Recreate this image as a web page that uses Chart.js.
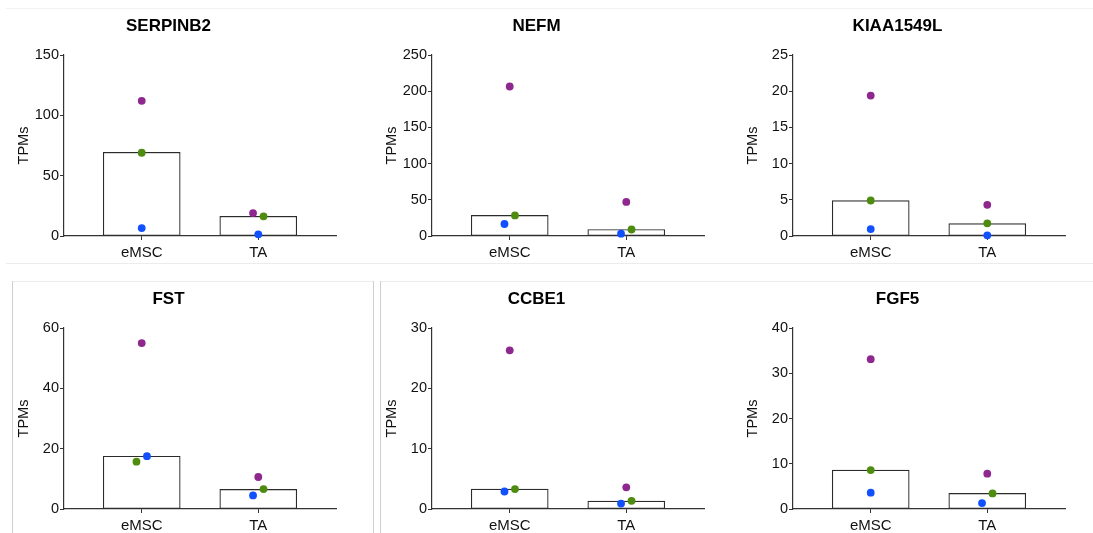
<!DOCTYPE html>
<html>
<head>
<meta charset="utf-8">
<script src="https://cdn.jsdelivr.net/npm/chart.js@4.4.0/dist/chart.umd.min.js"></script>
<style>
  body { margin: 0; background: #fff; width: 1093px; height: 533px; overflow: hidden; position: relative; }
  canvas { position: absolute; }
  .ln { position: absolute; }
</style>
</head>
<body>
<div class="ln" style="left:6px;top:8px;width:1087px;height:1px;background:#f2f2f2"></div>
<div class="ln" style="left:6px;top:263px;width:1087px;height:1px;background:#ececec"></div>
<div class="ln" style="left:12px;top:281px;width:361px;height:1px;background:#ececec"></div>
<div class="ln" style="left:380px;top:281px;width:713px;height:1px;background:#ececec"></div>
<div class="ln" style="left:12px;top:281px;width:1px;height:252px;background:#cfcfcf"></div>
<div class="ln" style="left:373px;top:281px;width:1px;height:252px;background:#cfcfcf"></div>
<div class="ln" style="left:380px;top:281px;width:1px;height:252px;background:#cfcfcf"></div>

<script>
/* values */
var genes = ['SERPINB2', 'NEFM', 'KIAA1549L', 'FST', 'CCBE1', 'FGF5'];
var groups = ['eMSC', 'TA'];
var yMax = [150, 250, 25, 60, 30, 40];
var yStep = [50, 50, 5, 20, 10, 10];

// bar heights (eMSC, TA)
var barValues = [[69.4, 16.3], [28.4, 9.0], [4.9, 1.7], [17.5, 6.5], [3.3, 1.3], [8.6, 3.45]];

// one donor per colour (eMSC, TA)
var purpleValues = [[112, 19], [206.5, 47], [19.4, 4.3], [55, 10.6], [26.3, 3.6], [33.1, 7.8]];
var greenValues = [[69, 16.3], [28.4, 9.0], [4.9, 1.75], [15.7, 6.6], [3.3, 1.35], [8.6, 3.45]];
var blueValues = [[6.6, 1.4], [16.6, 3.2], [0.95, 0.1], [17.5, 4.5], [2.9, 0.9], [3.6, 1.3]];

// horizontal jitter of the dots, in group units
var purpleJitter = [[0, -0.045], [0, 0], [0, 0], [0, 0], [0, 0], [0, 0]];
var greenJitter = [[0, 0.045], [0.045, 0.045], [0, 0], [-0.045, 0.045], [0.045, 0.045], [0, 0.045]];
var blueJitter = [[0, 0], [-0.045, -0.045], [0, 0], [0.045, -0.045], [-0.045, -0.045], [0, -0.045]];

var panelLeft = [0, 368, 729, 0, 368, 729];
var panelTop = [0, 0, 0, 273, 273, 273];

var axisColor = '#333';
var fontFam = '"Liberation Sans", Arial, sans-serif';

function dots(values, jitter) {
  return groups.map(function (g, i) {
    return { x: i + jitter[i], y: values[i] };
  });
}

genes.forEach(function (gene, k) {
  var c = document.createElement('canvas');
  c.width = 340;
  c.height = 262;
  c.style.left = panelLeft[k] + 'px';
  c.style.top = panelTop[k] + 'px';
  document.body.appendChild(c);

  var dot = { type: 'scatter', pointRadius: 3.9, pointBorderWidth: 0, clip: false, order: 1 };

  new Chart(c, {
    data: {
      datasets: [
        {
          type: 'bar',
          data: barValues[k].map(function (v, i) { return { x: i, y: v }; }),
          backgroundColor: '#fff',
          borderColor: '#2b2b2b',
          borderWidth: 1.2,
          borderSkipped: false,
          barThickness: 77,
          order: 10
        },
        Object.assign({}, dot, { data: dots(purpleValues[k], purpleJitter[k]), backgroundColor: '#8e288f' }),
        Object.assign({}, dot, { data: dots(greenValues[k], greenJitter[k]), backgroundColor: '#4e8c10' }),
        Object.assign({}, dot, { data: dots(blueValues[k], blueJitter[k]), backgroundColor: '#1150ff' })
      ]
    },
    options: {
      responsive: false,
      animation: false,
      layout: { padding: { left: 0, right: 3, top: 0, bottom: 0 } },
      plugins: {
        legend: { display: false },
        tooltip: { enabled: false },
        title: {
          display: true,
          text: gene,
          color: '#000',
          font: { family: fontFam, size: 17, weight: 'bold' },
          padding: { top: 16, bottom: 18.6 }
        }
      },
      scales: {
        x: {
          type: 'linear',
          min: -2 / 3,
          max: 5 / 3,
          offset: false,
          afterBuildTicks: function (s) { s.ticks = groups.map(function (g, i) { return { value: i }; }); },
          afterFit: function (s) { s.height = 26; },
          grid: { offset: false, drawOnChartArea: false, drawTicks: true, tickLength: 4, color: axisColor },
          border: { color: axisColor, width: 1.2 },
          ticks: {
            color: '#111',
            padding: 4,
            maxRotation: 0,
            autoSkip: false,
            font: { family: fontFam, size: 15 },
            callback: function (v) { return groups[v]; }
          }
        },
        y: {
          min: 0,
          max: yMax[k],
          afterFit: function (s) { s.width = 64; },
          grid: { drawOnChartArea: false, drawTicks: true, tickLength: 4, color: axisColor },
          border: { color: axisColor, width: 1.2 },
          ticks: {
            stepSize: yStep[k],
            color: '#111',
            padding: 1,
            font: { family: fontFam, size: 14.5 }
          },
          title: {
            display: true,
            text: 'TPMs',
            color: '#111',
            font: { family: fontFam, size: 14.5 },
            padding: { top: 15.5, bottom: 0 }
          }
        }
      }
    }
  });
});
</script>
</body>
</html>
